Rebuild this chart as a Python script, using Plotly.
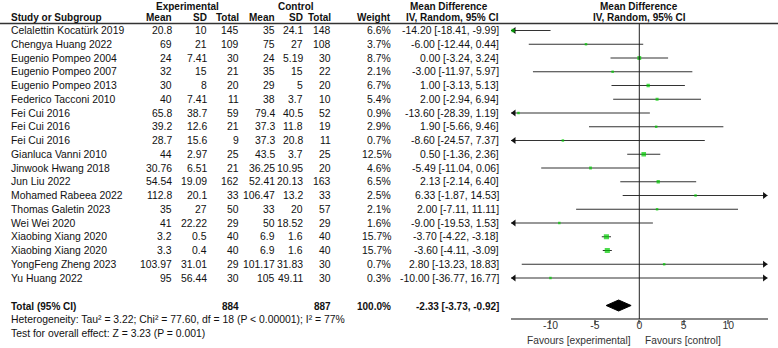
import plotly.graph_objects as go

studies = ["Celalettin Kocatürk 2019", "Chengya Huang 2022", "Eugenio Pompeo 2004", "Eugenio Pompeo 2007",
           "Eugenio Pompeo 2013", "Federico Tacconi 2010", "Fei Cui 2016", "Fei Cui 2016", "Fei Cui 2016",
           "Gianluca Vanni 2010", "Jinwook Hwang 2018", "Jun Liu 2022", "Mohamed Rabeea 2022",
           "Thomas Galetin 2023", "Wei Wei 2020", "Xiaobing Xiang 2020", "Xiaobing Xiang 2020",
           "YongFeng Zheng 2023", "Yu Huang 2022"]
exp_mean = [20.8, 69, 24, 32, 30, 40, 65.8, 39.2, 28.7, 44, 30.76, 54.54, 112.8, 35, 41, 3.2, 3.3, 103.97, 95]
exp_sd = [10, 21, 7.41, 15, 8, 7.41, 38.7, 12.6, 15.6, 2.97, 6.51, 19.09, 20.1, 27, 22.22, 0.5, 0.4, 31.01, 56.44]
exp_n = [145, 109, 30, 21, 20, 11, 59, 21, 9, 25, 21, 162, 33, 50, 29, 40, 40, 29, 30]
ctl_mean = [35, 75, 24, 35, 29, 38, 79.4, 37.3, 37.3, 43.5, 36.25, 52.41, 106.47, 33, 50, 6.9, 6.9, 101.17, 105]
ctl_sd = [24.1, 27, 5.19, 15, 5, 3.7, 40.5, 11.8, 20.8, 3.7, 10.95, 20.13, 13.2, 20, 18.52, 1.6, 1.6, 31.83, 49.11]
ctl_n = [148, 108, 30, 22, 20, 10, 52, 19, 11, 25, 20, 163, 33, 57, 29, 40, 40, 30, 30]
weight = [6.6, 3.7, 8.7, 2.1, 6.7, 5.4, 0.9, 2.9, 0.7, 12.5, 4.6, 6.5, 2.5, 2.1, 1.6, 15.7, 15.7, 0.7, 0.3]
md = [-14.20, -6.00, 0.00, -3.00, 1.00, 2.00, -13.60, 1.90, -8.60, 0.50, -5.49, 2.13, 6.33, 2.00, -9.00,
      -3.70, -3.60, 2.80, -10.00]
ci_lo = [-18.41, -12.44, -3.24, -11.97, -3.13, -2.94, -28.39, -5.66, -24.57, -1.36, -11.04, -2.14, -1.87,
         -7.11, -19.53, -4.22, -4.11, -13.23, -36.77]
ci_hi = [-9.99, 0.44, 3.24, 5.97, 5.13, 6.94, 1.19, 9.46, 7.37, 2.36, 0.06, 6.40, 14.53, 11.11, 1.53,
         -3.18, -3.09, 18.83, 16.77]

total_exp = 884
total_ctl = 887
total_weight = 100.0
pooled = -2.33
pooled_lo = -3.73
pooled_hi = -0.92
heterogeneity = "Heterogeneity: Tau² = 3.22; Chi² = 77.60, df = 18 (P < 0.00001); I² = 77%"
overall = "Test for overall effect: Z = 3.23 (P = 0.001)"
tick_vals = [-10, -5, 0, 5, 10]
tick_text = ["-10", "-5", "0", "5", "10"]

W, H = 778, 348
XMIN, XMAX = -14.45, 14.45
FONT = "Liberation Sans, Arial, sans-serif"
FS = 10.4
FSB = 10
TXT = "#111111"

row_y0, row_dy = 30.5, 13.75
rows_y = [row_y0 + row_dy * i for i in range(len(studies))]
total_y = 305.5

fig = go.Figure()
ann = []


def px(x):
    return x / W


def add_text(x, y, text, anchor="right", bold=False, size=None, color=TXT):
    if size is None:
        size = FSB if bold else FS
    if bold:
        text = "<b>" + text + "</b>"
    ann.append(dict(x=px(x), y=y, xref="paper", yref="y", text=text, showarrow=False,
                    xanchor=anchor, yanchor="middle", font=dict(family=FONT, size=size, color=color),
                    borderpad=0))


# column right edges (pixels)
C_EM, C_ES, C_EN = 173, 208, 240
C_CM, C_CS, C_CN = 276, 304, 332
C_W, C_CI = 392, 500
LEFT = 10

# headers
add_text(187, 6.5, "Experimental", anchor="center", bold=True)
add_text(296, 6.5, "Control", anchor="center", bold=True)
add_text(449, 6.5, "Mean Difference", anchor="center", bold=True)
add_text(638.5, 6.5, "Mean Difference", anchor="center", bold=True)
add_text(LEFT, 17.5, "Study or Subgroup", anchor="left", bold=True)
add_text(C_EM, 17.5, "Mean", bold=True)
add_text(C_ES, 17.5, "SD", bold=True)
add_text(C_EN, 17.5, "Total", bold=True)
add_text(C_CM, 17.5, "Mean", bold=True)
add_text(C_CS, 17.5, "SD", bold=True)
add_text(C_CN, 17.5, "Total", bold=True)
add_text(C_W, 17.5, "Weight", bold=True)
add_text(C_CI, 17.5, "IV, Random, 95% CI", bold=True)
add_text(639, 17.5, "IV, Random, 95% CI", anchor="center", bold=True)

for i, y in enumerate(rows_y):
    add_text(LEFT, y, studies[i], anchor="left")
    add_text(C_EM, y, f"{exp_mean[i]:g}")
    add_text(C_ES, y, f"{exp_sd[i]:g}")
    add_text(C_EN, y, f"{exp_n[i]}")
    add_text(C_CM, y, f"{ctl_mean[i]:g}")
    add_text(C_CS, y, f"{ctl_sd[i]:g}")
    add_text(C_CN, y, f"{ctl_n[i]}")
    add_text(C_W, y, f"{weight[i]:.1f}%")
    add_text(C_CI, y, f"{md[i]:.2f} [{ci_lo[i]:.2f}, {ci_hi[i]:.2f}]")

add_text(LEFT, total_y + 1, "Total (95% CI)", anchor="left", bold=True)
add_text(C_EN, total_y + 1, f"{total_exp}", bold=True)
add_text(C_CN, total_y + 1, f"{total_ctl}", bold=True)
add_text(C_W, total_y + 1, f"{total_weight:.1f}%", bold=True)
add_text(C_CI, total_y + 1, f"{pooled:.2f} [{pooled_lo:.2f}, {pooled_hi:.2f}]", bold=True)
add_text(LEFT, 319.5, heterogeneity, anchor="left")
add_text(LEFT, 333, overall, anchor="left")

# favours labels
ann.append(dict(x=0, y=340.5, xref="x", yref="y", text="Favours [experimental]", showarrow=False,
                xanchor="right", yanchor="middle", xshift=-7, borderpad=0,
                font=dict(family=FONT, size=10.2, color="#333333")))
ann.append(dict(x=0, y=340.5, xref="x", yref="y", text="Favours [control]", showarrow=False,
                xanchor="left", yanchor="middle", xshift=5, borderpad=0,
                font=dict(family=FONT, size=10.2, color="#333333")))

# CI lines and arrows
for i, y in enumerate(rows_y):
    a = max(ci_lo[i], XMIN)
    b = min(ci_hi[i], XMAX)
    fig.add_trace(go.Scatter(x=[a, b], y=[y, y], mode="lines", line=dict(color="#333333", width=1.2),
                             hoverinfo="skip", showlegend=False))
    if ci_lo[i] < XMIN:
        fig.add_trace(go.Scatter(x=[XMIN + 0.35], y=[y], mode="markers",
                                 marker=dict(symbol="triangle-left", size=6, color="#111111"),
                                 hoverinfo="skip", showlegend=False, cliponaxis=False))
    if ci_hi[i] > XMAX:
        fig.add_trace(go.Scatter(x=[XMAX - 0.35], y=[y], mode="markers",
                                 marker=dict(symbol="triangle-right", size=6, color="#111111"),
                                 hoverinfo="skip", showlegend=False, cliponaxis=False))

sizes = [max(2.5, 1.3 * w ** 0.5) for w in weight]
fig.add_trace(go.Scatter(x=md, y=rows_y, mode="markers",
                         marker=dict(symbol="square", size=sizes, color="#00cc00", line=dict(width=0)),
                         hoverinfo="skip", showlegend=False))

# diamond
fig.add_trace(go.Scatter(x=[pooled_lo, pooled, pooled_hi, pooled, pooled_lo],
                         y=[total_y, total_y - 5.5, total_y, total_y + 5.5, total_y],
                         mode="lines", fill="toself", fillcolor="#000000", line=dict(color="#000000", width=1),
                         hoverinfo="skip", showlegend=False))

shapes = [
    dict(type="line", xref="paper", yref="y", x0=0, x1=1, y0=23.5, y1=23.5,
         line=dict(color="#333333", width=1.5)),
    dict(type="line", xref="x", yref="y", x0=0, x1=0, y0=23.5, y1=319,
         line=dict(color="#222222", width=1)),
]

fig.update_layout(
    width=W, height=H, margin=dict(l=0, r=0, t=0, b=0, autoexpand=False),
    paper_bgcolor="white", plot_bgcolor="rgba(0,0,0,0)",
    annotations=ann, shapes=shapes,
    xaxis=dict(domain=[510.9 / W, 767.7 / W], range=[XMIN, XMAX], anchor="free", position=(H - 319) / H,
               showgrid=False, zeroline=False, showline=True, linecolor="#888888", linewidth=1.5,
               ticks="outside", ticklen=4, tickcolor="#888888", tickwidth=1.5,
               tickvals=tick_vals, ticktext=tick_text, ticklabelstandoff=-7,
               tickfont=dict(family=FONT, size=10.4, color="#333333"), fixedrange=True),
    yaxis=dict(domain=[0, 1], range=[H, 0], visible=False, fixedrange=True),
    showlegend=False,
)

fig.write_html("out.html", config={"displayModeBar": False},
               post_script="document.body.style.margin='0';document.body.style.overflow='hidden';")
